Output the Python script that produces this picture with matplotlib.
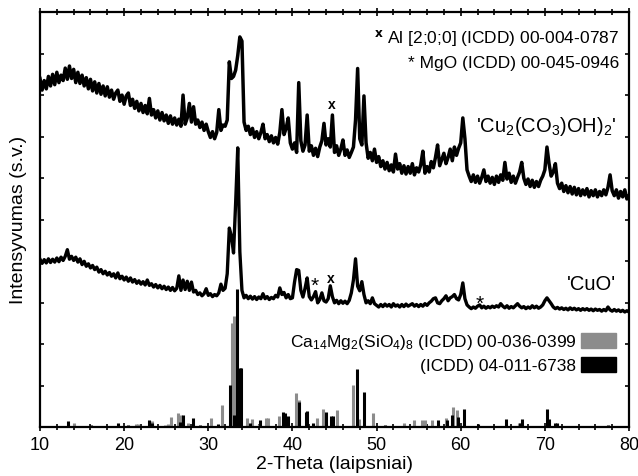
import numpy as np
import matplotlib
matplotlib.use("Agg")
import matplotlib.pyplot as plt
from matplotlib.patches import Patch

plt.rcParams['font.family'] = ['Liberation Sans', 'DejaVu Sans']
plt.rcParams['mathtext.fontset'] = 'custom'
plt.rcParams['mathtext.rm'] = 'Liberation Sans'
plt.rcParams['mathtext.default'] = 'regular'

# 2-theta scan, 0.25 deg step
two_theta = np.arange(10.0, 80.001, 0.25)

# 'Cu2(CO3)OH)2' sample, shifted up
cu_carb = [
    8.40, 8.12, 8.35, 8.15, 8.45, 8.22, 8.50, 8.25, 8.55, 8.30, 8.48, 8.35, 8.65, 8.38, 8.70, 8.40, 8.62, 8.30, 8.55, 8.28,
    8.48, 8.22, 8.42, 8.15, 8.38, 8.10, 8.32, 8.05, 8.28, 8.02, 8.22, 7.98, 8.20, 7.95, 8.12, 7.90, 8.05, 8.12, 7.85, 8.00,
    7.78, 7.98, 8.05, 7.75, 7.90, 7.68, 7.85, 7.62, 7.80, 7.58, 7.75, 7.55, 7.92, 7.52, 7.65, 7.45, 7.62, 7.40, 7.58, 7.38,
    7.52, 7.32, 7.50, 7.30, 7.45, 7.28, 7.42, 7.25, 8.00, 7.30, 7.45, 7.80, 7.35, 7.72, 7.30, 7.40, 7.22, 7.35, 7.15, 7.30,
    7.12, 6.98, 7.12, 6.95, 7.10, 7.65, 7.15, 7.28, 7.25, 7.40, 8.80, 8.40, 8.45, 8.60, 8.95, 9.40, 9.30, 7.35, 7.15, 7.25,
    7.05, 7.20, 6.98, 7.12, 6.95, 7.10, 7.30, 6.95, 7.05, 6.88, 7.02, 6.85, 6.98, 6.82, 7.10, 7.65, 7.05, 7.20, 7.45, 6.85,
    6.70, 6.85, 6.62, 8.30, 6.90, 6.65, 6.80, 7.52, 6.65, 6.78, 6.55, 6.72, 6.52, 6.75, 6.90, 7.32, 6.80, 6.95, 6.75, 7.52,
    6.62, 6.78, 6.55, 6.70, 6.92, 6.55, 6.68, 6.50, 6.62, 6.75, 7.40, 8.64, 6.95, 6.80, 7.98, 6.85, 6.48, 6.62, 6.42, 6.70,
    6.38, 6.52, 6.28, 6.42, 6.22, 6.38, 6.18, 6.32, 6.15, 6.58, 6.22, 6.35, 6.12, 6.30, 6.10, 6.28, 6.12, 6.35, 6.08, 6.25,
    6.15, 6.32, 6.65, 6.12, 6.28, 6.15, 6.40, 6.25, 6.50, 6.80, 6.30, 6.45, 6.60, 6.35, 6.50, 6.70, 6.42, 6.75, 6.55, 6.72,
    6.85, 7.45, 6.95, 6.20, 6.05, 5.92, 6.08, 5.90, 6.05, 5.88, 6.02, 6.20, 5.92, 6.05, 5.88, 6.02, 5.85, 6.05, 5.90, 6.08,
    5.95, 6.38, 5.98, 6.12, 5.90, 6.05, 5.88, 6.02, 6.15, 6.38, 6.00, 5.85, 5.98, 5.80, 5.95, 5.78, 5.92, 5.80, 5.95, 6.05,
    6.20, 6.75, 6.35, 6.05, 6.15, 6.35, 5.88, 5.75, 5.88, 5.68, 5.82, 5.65, 5.80, 5.62, 5.78, 5.60, 5.75, 5.58, 5.72, 5.60,
    5.75, 5.55, 5.70, 5.58, 5.72, 5.55, 5.68, 5.58, 5.72, 5.60, 5.78, 6.08, 5.70, 5.58, 5.72, 5.52, 5.68, 5.55, 5.72, 5.50,
    5.58,
]

# 'CuO' sample
cuo = [
    4.05, 3.95, 4.04, 3.96, 4.06, 3.97, 4.05, 3.98, 4.08, 3.99, 4.10, 4.02, 4.12, 4.28, 4.05, 4.12, 4.02, 4.10, 3.98, 4.06,
    3.92, 4.00, 3.88, 3.94, 3.84, 3.90, 3.80, 3.86, 3.74, 3.80, 3.70, 3.76, 3.67, 3.73, 3.64, 3.70, 3.60, 3.72, 3.58, 3.64,
    3.55, 3.62, 3.52, 3.60, 3.50, 3.56, 3.47, 3.53, 3.45, 3.51, 3.43, 3.55, 3.42, 3.46, 3.38, 3.44, 3.36, 3.42, 3.34, 3.40,
    3.32, 3.38, 3.30, 3.37, 3.29, 3.35, 3.65, 3.30, 3.55, 3.32, 3.52, 3.30, 3.50, 3.26, 3.30, 3.20, 3.24, 3.17, 3.22, 3.34,
    3.18, 3.22, 3.15, 3.20, 3.17, 3.24, 3.45, 3.30, 3.35, 3.70, 4.80, 4.60, 4.20, 5.40, 6.73, 4.23, 3.30, 3.12, 3.18, 3.10,
    3.16, 3.09, 3.15, 3.08, 3.14, 3.10, 3.22, 3.10, 3.15, 3.08, 3.13, 3.10, 3.18, 3.14, 3.36, 3.20, 3.25, 3.12, 3.20, 3.10,
    3.12, 3.50, 3.80, 3.78, 3.30, 3.14, 3.35, 3.60, 3.15, 3.07, 3.15, 3.27, 3.00, 3.08, 3.24, 3.05, 3.02, 3.10, 3.41, 3.15,
    3.00, 3.06, 2.98, 3.05, 2.99, 3.04, 2.98, 3.06, 3.24, 3.55, 4.06, 3.40, 3.29, 3.51, 3.20, 3.00, 3.05, 2.98, 3.12, 2.98,
    2.94, 2.90, 2.96, 2.91, 2.97, 2.92, 2.96, 2.90, 2.98, 2.92, 2.95, 2.90, 2.96, 2.91, 2.97, 2.92, 2.95, 2.98, 2.92, 2.96,
    2.91, 2.96, 2.92, 2.98, 2.94, 3.00, 3.04, 3.10, 3.12, 3.00, 2.98, 3.05, 3.10, 3.17, 3.05, 3.12, 3.15, 3.20, 3.10, 3.07,
    3.20, 3.48, 3.10, 2.95, 2.90, 2.86, 2.90, 2.87, 2.92, 2.95, 2.88, 2.92, 2.87, 2.91, 2.88, 2.92, 2.89, 2.93, 2.90, 2.98,
    2.92, 2.88, 2.93, 2.87, 2.91, 2.88, 2.93, 2.98, 2.92, 2.88, 2.91, 2.86, 2.90, 2.87, 2.93, 2.88, 2.92, 2.87, 2.90, 2.95,
    3.05, 3.12, 3.05, 2.98, 2.90, 2.86, 2.89, 2.85, 2.88, 2.84, 2.87, 2.83, 2.88, 2.84, 2.87, 2.83, 2.86, 2.82, 2.86, 2.83,
    2.86, 2.82, 2.85, 2.81, 2.85, 2.82, 2.84, 2.80, 2.84, 2.81, 2.90, 2.83, 2.80, 2.84, 2.80, 2.83, 2.79, 2.82, 2.78, 2.81,
    2.78,
]

# reference cards (stick patterns)
ca_mg_pos = [14.0, 21.4, 21.6, 23.3, 24.9, 25.2, 25.6, 26.4, 26.8, 27.6, 30.3, 31.6, 32.8, 33.0, 34.6, 35.2,
             36.0, 36.8, 37.1, 38.4, 40.4, 40.8, 42.9, 43.6, 45.3, 47.2, 47.9, 49.6, 53.2, 54.4, 55.4, 55.8,
             56.6, 58.2, 59.1, 59.5, 66.9]
ca_mg_int = [0.10, 0.08, 0.08, 0.15, 0.07, 0.08, 0.26, 0.35, 0.30, 0.10, 0.22, 0.54, 2.52, 2.69, 0.24, 0.20,
             0.08, 0.24, 0.24, 0.28, 0.84, 0.66, 0.24, 0.45, 0.42, 1.02, 0.20, 0.34, 0.10, 0.18, 0.17, 0.17,
             0.17, 0.22, 0.49, 0.42, 0.12]

cuo_ref_pos = [13.3, 16.1, 19.3, 20.5, 23.0, 23.3, 26.6, 27.0, 28.2, 29.0, 31.2, 32.6, 33.1, 33.45, 33.8, 33.9,
               35.0, 36.2, 38.9, 39.1, 39.5, 40.8, 41.6, 41.7, 42.4, 44.0, 44.6, 44.8, 47.7, 48.5, 51.0, 57.3,
               58.4, 59.0, 59.7, 60.4, 62.1, 65.4, 67.1, 67.3, 70.3, 70.5, 71.2, 71.4, 77.5]
cuo_ref_int = [0.15, 0.05, 0.10, 0.07, 0.18, 0.12, 0.13, 0.31, 0.22, 0.05, 0.08, 1.02, 0.30, 3.34, 1.43, 1.43,
               0.12, 0.18, 0.37, 0.35, 0.28, 0.62, 0.38, 0.40, 0.10, 0.37, 0.28, 0.28, 1.41, 0.86, 0.07, 0.18,
               0.18, 0.30, 0.25, 0.44, 0.08, 0.20, 0.10, 0.20, 0.45, 0.20, 0.12, 0.10, 0.06]

GRAY = '#8c8c8c'

fig = plt.figure(figsize=(6.38, 4.76), dpi=100)
ax = fig.add_axes([0.0627, 0.1019, 0.9232, 0.8729])

ax.vlines(ca_mg_pos, 0, ca_mg_int, colors=GRAY, lw=2.2, zorder=2)
ax.vlines(cuo_ref_pos, 0, cuo_ref_int, colors='black', lw=2.2, zorder=3)

ax.plot(two_theta, cu_carb, color='black', lw=2.5, zorder=4)
ax.plot(two_theta, cuo, color='black', lw=2.4, zorder=4)

ax.set_xlim(10, 80)
ax.set_ylim(0, 10)
ax.set_xticks(np.arange(10, 81, 10))
ax.set_xticks(np.arange(10, 81, 2), minor=True)
ax.set_yticks(np.arange(0, 11, 1))
ax.set_yticklabels([])

ax.tick_params(axis='x', which='both', direction='inout', top=True, labelsize=13, width=1.2)
ax.tick_params(axis='x', which='major', length=6)
ax.tick_params(axis='x', which='minor', length=5)
ax.tick_params(axis='y', which='both', direction='in', right=True, length=3, width=1.2)
for s in ax.spines.values():
    s.set_linewidth(1.6)

ax.set_xlabel('2-Theta (laipsniai)', fontsize=14, labelpad=2)
ax.set_ylabel('Intensyvumas (s.v.)', fontsize=14, labelpad=6)

# phase markers
ax.text(44.72, 7.77, 'x', fontsize=10, fontweight='bold', ha='center', va='center')
ax.text(44.6, 3.58, 'x', fontsize=10, fontweight='bold', ha='center', va='center')
ax.text(42.7, 3.40, '*', fontsize=15, ha='center', va='center')
ax.text(62.2, 2.97, '*', fontsize=15, ha='center', va='center')

ax.text(0.984, 0.935, r'$^{\mathbf{x}}$ Al [2;0;0] (ICDD) 00-004-0787', transform=ax.transAxes,
        fontsize=12.5, ha='right', va='center')
ax.text(0.984, 0.877, '* MgO (ICDD) 00-045-0946', transform=ax.transAxes,
        fontsize=12.5, ha='right', va='center')

ax.text(78.5, 7.25, r"'Cu$_2$(CO$_3$)OH)$_2$'", fontsize=14.5, ha='right', va='center')
ax.text(78.5, 3.43, "'CuO'", fontsize=14.5, ha='right', va='center')

handles = [Patch(facecolor=GRAY, edgecolor=GRAY), Patch(facecolor='black', edgecolor='black')]
labels = [r'Ca$_{14}$Mg$_2$(SiO$_4$)$_8$ (ICDD) 00-036-0399', '(ICDD) 04-011-6738']
ax.legend(handles, labels, loc='upper right', bbox_to_anchor=(0.99, 0.245), frameon=False,
          markerfirst=False, fontsize=12.5, handlelength=2.0, handleheight=1.0,
          handletextpad=0.3, labelspacing=0.3, borderaxespad=0.0)

fig.savefig('out.png', dpi=100)
